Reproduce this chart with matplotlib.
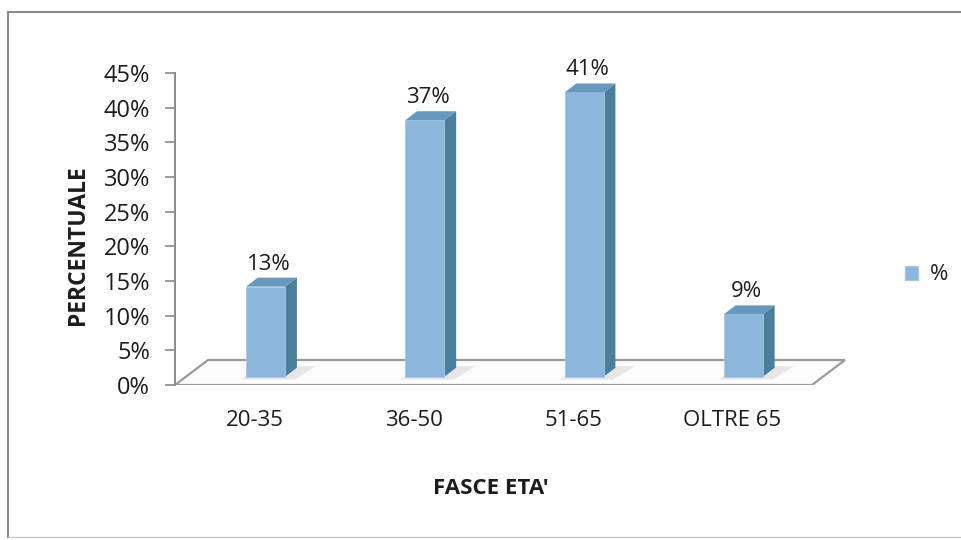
import matplotlib
matplotlib.use("Agg")
import matplotlib.pyplot as plt
from matplotlib.patches import Polygon, Patch
from matplotlib.lines import Line2D

# ---- data ----
categories = ["20-35", "36-50", "51-65", "OLTRE 65"]
values = [13, 37, 41, 9]
value_labels = ["13%", "37%", "41%", "9%"]
yticks = [0, 5, 10, 15, 20, 25, 30, 35, 40, 45]
ytick_labels = ["0%", "5%", "10%", "15%", "20%", "25%", "30%", "35%", "40%", "45%"]
x_title = "FASCE ETA'"
y_title = "PERCENTUALE"
legend_label = "%"

plt.rcParams['font.family'] = ['Open Sans', 'DejaVu Sans']
TXT = "#1c1c1c"
AX = "#8a8a8a"
FRONT = "#8db6dc"
SIDE = "#4a7f9c"
TOP = "#6898bd"

fig = plt.figure(figsize=(9.61, 5.40), dpi=100)
W, H = 961, 540
ax = fig.add_axes([175 / W, 1 - 385 / H, 675 / W, 312 / H])
ax.set_xlim(-0.5, -0.5 + 675 / 159.25)
ax.set_ylim(0, 45)

# pseudo-3D depth in data units
DX = 33 / 159.25
DY = 25 / (312 / 45)
f0 = 0.33   # depth of bar front plane
dd = 0.36   # bar depth
bw = 0.245  # bar width

# floor
n = len(categories)
floor = [(-0.5, 0), (n - 0.5, 0), (n - 0.5 + DX, DY), (-0.5 + DX, DY)]
ax.add_patch(Polygon(floor, closed=True, facecolor="#fcfcfc", edgecolor="#9a9a9a",
                     lw=1.6, zorder=1))

xs = list(range(n))
# shadows
for x, v in zip(xs, values):
    xl = x + f0 * DX - bw / 2
    xr = xl + bw
    b = f0 * DY
    sh = [(xl - 0.03, b - 0.4), (xr + 0.06, b - 0.4), (xr + dd * DX + 0.12, b + dd * DY + 0.2),
          (xl + dd * DX, b + dd * DY + 0.2)]
    ax.add_patch(Polygon(sh, closed=True, facecolor="#e6e6e6", edgecolor="none", zorder=2))

bar_x = [x + f0 * DX for x in xs]
ax.bar(bar_x, values, width=bw, bottom=f0 * DY, color=FRONT, edgecolor="#a9c8e6",
       lw=0.6, zorder=4)
for x, v, lab in zip(bar_x, values, value_labels):
    xl = x - bw / 2
    xr = x + bw / 2
    b = f0 * DY
    t = b + v
    side = [(xr, b), (xr, t), (xr + dd * DX, t + dd * DY), (xr + dd * DX, b + dd * DY)]
    top = [(xl, t), (xr, t), (xr + dd * DX, t + dd * DY), (xl + dd * DX, t + dd * DY)]
    ax.add_patch(Polygon(side, closed=True, facecolor=SIDE, edgecolor="none", zorder=3))
    ax.add_patch(Polygon(top, closed=True, facecolor=TOP, edgecolor="none", zorder=5))
    ax.annotate(lab, xy=(x + dd * DX / 4, t + dd * DY), xytext=(0, 3),
                textcoords="offset pixels", ha="center", va="bottom",
                fontsize=16, color=TXT)

# axes styling
for s in ["top", "right", "bottom"]:
    ax.spines[s].set_visible(False)
ax.spines["left"].set_color(AX)
ax.spines["left"].set_linewidth(1.4)
ax.set_yticks(yticks)
ax.set_yticklabels(ytick_labels)
ax.tick_params(axis="y", length=7, width=1.2, color=AX, pad=11, labelsize=17,
               labelcolor=TXT)
ax.set_xticks(xs)
ax.set_xticklabels(categories, va="center")
ax.tick_params(axis="x", length=0, pad=25.5, labelsize=16, labelcolor=TXT)
ax.patch.set_visible(False)

# titles
fig.text(491 / W, 1 - 489 / H, x_title, ha="center", va="center",
         fontsize=16, fontweight="bold", color=TXT)
fig.text(78 / W, 1 - 245 / H, y_title, ha="center", va="center", rotation=90,
         fontsize=16.5, fontweight="bold", color=TXT)

# legend
handle = Patch(facecolor=FRONT, edgecolor="#a9c8e6")
fig.legend([handle], [legend_label], loc="center left",
           bbox_to_anchor=(905 / W, 1 - 275 / H), frameon=False, fontsize=16,
           handlelength=0.6, handleheight=0.6, handletextpad=0.5,
           borderpad=0, borderaxespad=0, labelcolor=TXT)

# chart border
fig.add_artist(Line2D([8 / W, 1.0], [1 - 12 / H, 1 - 12 / H], color="#8c8c8c", lw=1.5))
fig.add_artist(Line2D([8 / W, 8 / W], [1 - 12 / H, 1 - 537 / H], color="#8c8c8c", lw=1.5))
fig.add_artist(Line2D([8 / W, 1.0], [1 - 537 / H, 1 - 537 / H], color="#c8c8c8", lw=1.0))

fig.savefig("out.png", dpi=100)
